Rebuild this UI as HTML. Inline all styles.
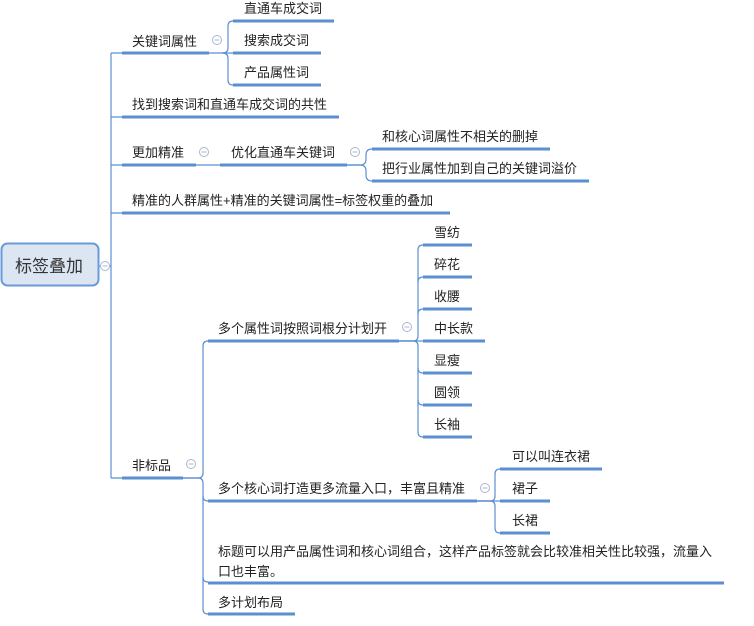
<!DOCTYPE html>
<html><head><meta charset="utf-8"><style>
html,body{margin:0;padding:0;background:#fff;}
svg{display:block;}
text{font-family:"Liberation Sans","Noto Sans CJK SC",sans-serif;font-size:13px;fill:#222;}
</style></head><body>
<svg width="754" height="626" viewBox="0 0 754 626" xmlns="http://www.w3.org/2000/svg">
<g fill="none" stroke="#5b8fd1" stroke-width="1.2">
<path d="M98,266 L111,266"/>
<path d="M111,53 L111,478"/>
<path d="M111,53 L122,53 M111,117 L122,117 M111,165 L122,165 M111,213 L122,213 M111,478 L122,478"/>
<path d="M209,53 L233,53"/>
<path d="M222,53 Q228,53 228,48 L228,26 Q228,21 233,21"/>
<path d="M222,53 Q228,53 228,58 L228,80 Q228,85 233,85"/>
<path d="M196,165 L220,165"/>
<path d="M347,165 L360,165 Q366,165 366,159 L366,155 Q366,149 372,149"/>
<path d="M347,165 L360,165 Q366,165 366,171 L366,175 Q366,181 372,181"/>
<path d="M183,478 L198,478 Q203,478 203,473 L203,346 Q203,341 208,341"/>
<path d="M183,478 L198,478 Q203,478 203,483 L203,496 Q203,501 208,501"/>
<path d="M203,496 L203,577 Q203,582 208,582"/>
<path d="M203,577 L203,609 Q203,614 208,614"/>
<path d="M399,341 L423,341"/>
<path d="M399,341 L413,341 Q418,341 418,336 L418,250 Q418,245 423,245"/>
<path d="M418,282 Q418,277 423,277 M418,314 Q418,309 423,309"/>
<path d="M399,341 L413,341 Q418,341 418,346 L418,432 Q418,437 423,437"/>
<path d="M418,368 Q418,373 423,373 M418,400 Q418,405 423,405"/>
<path d="M477,501 L500,501"/>
<path d="M477,501 L490,501 Q495,501 495,496 L495,474 Q495,469 500,469"/>
<path d="M477,501 L490,501 Q495,501 495,506 L495,528 Q495,533 500,533"/>
</g>
<g stroke="#5b8fd1" stroke-width="3" fill="none">
<path d="M122,53 H209 M233,21 H334 M233,53 H321 M233,85 H321 M122,117 H339 M122,165 H196 M220,165 H347 M372,149 H550 M372,181 H589 M122,213 H450 M122,478 H183 M208,341 H399 M423,245 H472 M423,277 H472 M423,309 H472 M423,341 H485 M423,373 H472 M423,405 H472 M423,437 H472 M208,501 H477 M500,469 H602 M500,501 H550 M500,533 H550 M208,583 H724 M208,614 H295"/>
</g>
<rect x="1.5" y="243.5" width="97" height="42" rx="6" fill="#dce6f2" stroke="#6a9bd8" stroke-width="2"/>
<text x="49" y="272" text-anchor="middle" style="font-size:17px;fill:#333">标签叠加</text>
<g fill="#fff" stroke="#aab8cc" stroke-width="1">
<circle cx="105" cy="266" r="4.5"/><circle cx="217" cy="40" r="4.5"/><circle cx="204" cy="152" r="4.5"/><circle cx="355" cy="152" r="4.5"/><circle cx="191" cy="464" r="4.5"/><circle cx="407" cy="327" r="4.5"/><circle cx="485" cy="488" r="4.5"/>
</g>
<g stroke="#aab8cc" stroke-width="1">
<path d="M102.5,266H107.5 M214.5,40H219.5 M201.5,152H206.5 M352.5,152H357.5 M188.5,464H193.5 M404.5,327H409.5 M482.5,488H487.5"/>
</g>
<text x="132" y="46">关键词属性</text>
<text x="244" y="13">直通车成交词</text>
<text x="244" y="45">搜索成交词</text>
<text x="244" y="77">产品属性词</text>
<text x="132" y="109">找到搜索词和直通车成交词的共性</text>
<text x="132" y="157">更加精准</text>
<text x="231" y="157">优化直通车关键词</text>
<text x="382" y="141">和核心词属性不相关的删掉</text>
<text x="382" y="173">把行业属性加到自己的关键词溢价</text>
<text x="132" y="205">精准的人群属性+精准的关键词属性=标签权重的叠加</text>
<text x="132" y="470">非标品</text>
<text x="218" y="333">多个属性词按照词根分计划开</text>
<text x="434" y="237">雪纺</text>
<text x="434" y="269">碎花</text>
<text x="434" y="301">收腰</text>
<text x="434" y="333">中长款</text>
<text x="434" y="365">显瘦</text>
<text x="434" y="397">圆领</text>
<text x="434" y="429">长袖</text>
<text x="218" y="493">多个核心词打造更多流量入口，丰富且精准</text>
<text x="512" y="461">可以叫连衣裙</text>
<text x="512" y="493">裙子</text>
<text x="512" y="525">长裙</text>
<text x="218" y="556">标题可以用产品属性词和核心词组合，这样产品标签就会比较准相关性比较强，流量入</text>
<text x="218" y="576">口也丰富。</text>
<text x="218" y="607">多计划布局</text>
</svg>
</body></html>
